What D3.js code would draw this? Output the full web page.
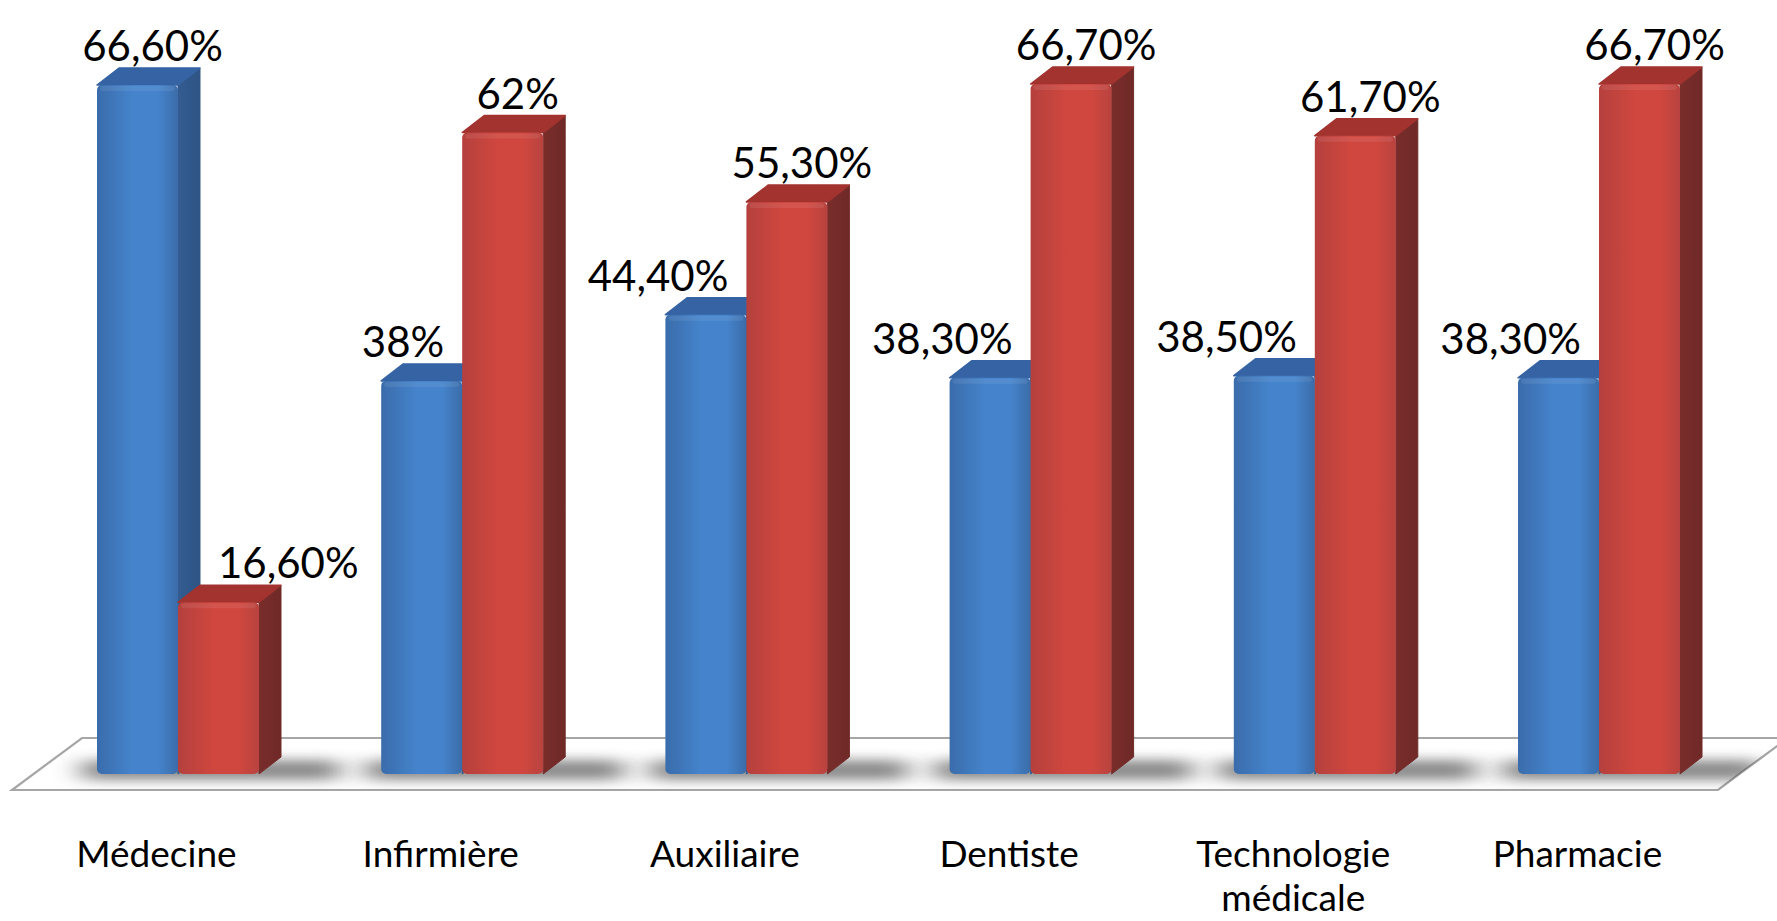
<!DOCTYPE html>
<html>
<head>
<meta charset="utf-8">
<script src="https://cdn.jsdelivr.net/npm/d3@7"></script>
<style>
  html, body { margin: 0; padding: 0; background: #ffffff; }
  svg { display: block; }
  text { font-family: Lato, "Open Sans", sans-serif; fill: #000; }
</style>
</head>
<body>
<svg id="chart" width="1777" height="921"></svg>
<script>
// ---- data ----
const categories = ["Médecine", "Infirmière", "Auxiliaire", "Dentiste", "Technologie médicale", "Pharmacie"];
const seriesNames = ["Série 1", "Série 2"];
const blueValues = [66.6, 38, 44.4, 38.3, 38.5, 38.3];
const redValues  = [16.6, 62, 55.3, 66.7, 61.7, 66.7];

// ---- layout ----
const W = 1777, H = 921;
const baseY = 774;          // bar front bottom
const depthX = 22, depthY = 17;
const floor = { frontY: 790, backY: 738, left: 12, right: 1718 };
const floorSlope = 70 / 52;

const svg = d3.select("#chart");
const defs = svg.append("defs");

const x0 = d3.scaleBand().domain(categories).range([97, 1680]).paddingInner(0.43).paddingOuter(0);
const x1 = d3.scaleBand().domain(seriesNames).range([0, x0.bandwidth()]);
const y = d3.scaleLinear().domain([0, 70]).range([baseY, baseY - 70 * 10.345]);

const palette = {
  "Série 1": { l: "#3a6cab", m: "#4584cc", r: "#3b6ca9", side: "#2f5485", top: "#3563a3" },
  "Série 2": { l: "#b5403d", m: "#d0473f", r: "#b8433f", side: "#6f2927", top: "#a2332f" }
};
seriesNames.forEach((s, i) => {
  const g = defs.append("linearGradient").attr("id", "front" + i).attr("x1", 0).attr("x2", 1).attr("y1", 0).attr("y2", 0);
  g.append("stop").attr("offset", "0%").attr("stop-color", palette[s].l);
  g.append("stop").attr("offset", "45%").attr("stop-color", palette[s].m);
  g.append("stop").attr("offset", "75%").attr("stop-color", palette[s].m);
  g.append("stop").attr("offset", "100%").attr("stop-color", palette[s].r);
  const sg = defs.append("linearGradient").attr("id", "side" + i).attr("x1", 0).attr("x2", 1).attr("y1", 0).attr("y2", 0);
  sg.append("stop").attr("offset", "0%").attr("stop-color", d3.color(palette[s].side).brighter(0.25));
  sg.append("stop").attr("offset", "100%").attr("stop-color", palette[s].side);
});
const blur = defs.append("filter").attr("id", "blur").attr("x", "-50%").attr("y", "-200%").attr("width", "200%").attr("height", "500%");
blur.append("feGaussianBlur").attr("stdDeviation", "14 6");

// ---- floor ----
const floorPts = [
  [floor.left, floor.frontY],
  [floor.right, floor.frontY],
  [floor.right + (floor.frontY - floor.backY) * floorSlope, floor.backY],
  [floor.left + (floor.frontY - floor.backY) * floorSlope, floor.backY]
];
defs.append("clipPath").attr("id", "floorClip").append("polygon").attr("points", floorPts.join(" "));
svg.append("polygon").attr("points", floorPts.join(" "))
  .attr("fill", "#ffffff").attr("stroke", "#a6a6a6").attr("stroke-width", 2.2);

// shadows
const shadowG = svg.append("g").attr("clip-path", "url(#floorClip)");
categories.forEach(c => {
  shadowG.append("rect")
    .attr("x", x0(c) - 15).attr("y", baseY - 14)
    .attr("width", x0.bandwidth() + 95).attr("height", 20)
    .attr("fill", "#3c3c3c").attr("opacity", 0.6).attr("filter", "url(#blur)");
});

// ---- bars ----
const rows = categories.map((c, i) => ({ cat: c, vals: [blueValues[i], redValues[i]] }));
const barsG = svg.append("g");
rows.forEach(row => {
  row.vals.forEach((v, si) => {
    const s = seriesNames[si];
    const xl = x0(row.cat) + x1(s);
    const w = x1.bandwidth();
    const yt = y(v);
    const g = barsG.append("g");
    // side
    g.append("path")
      .attr("d", `M${xl + w},${yt} L${xl + w + depthX},${yt - depthY} L${xl + w + depthX},${baseY - depthY} L${xl + w},${baseY} Z`)
      .attr("fill", `url(#side${si})`).attr("stroke", `url(#side${si})`).attr("stroke-width", 1).attr("stroke-linejoin", "round");
    // top
    g.append("path")
      .attr("d", `M${xl},${yt} L${xl + depthX},${yt - depthY} L${xl + w + depthX},${yt - depthY} L${xl + w},${yt} Z`)
      .attr("fill", palette[s].top).attr("stroke", palette[s].top).attr("stroke-width", 1.5).attr("stroke-linejoin", "round");
    // front
    g.append("rect")
      .attr("x", xl).attr("y", yt).attr("width", w).attr("height", baseY - yt)
      .attr("rx", 5).attr("fill", `url(#front${si})`);
    // bevel highlight at top edge
    g.append("rect")
      .attr("x", xl + 3).attr("y", yt + 1).attr("width", w - 6).attr("height", 5)
      .attr("rx", 3).attr("fill", "#ffffff").attr("opacity", 0.08);
  });
});

// ---- value labels ----
const fmt = v => (Number.isInteger(v) ? String(v) : v.toFixed(2).replace(".", ",")) + "%";
const labelsG = svg.append("g").style("font-size", "42px");
rows.forEach(row => {
  row.vals.forEach((v, si) => {
    const s = seriesNames[si];
    const other = row.vals[1 - si];
    const xl = x0(row.cat) + x1(s);
    const w = x1.bandwidth();
    let xp, anchor;
    if (si === 0 && other > v) { xp = xl + w - 18; anchor = "end"; }
    else if (si === 1 && other > v) { xp = xl + 40; anchor = "start"; }
    else { xp = xl + w / 2 + 15; anchor = "middle"; }
    labelsG.append("text")
      .attr("x", xp).attr("y", y(v) - depthY - 7)
      .attr("text-anchor", anchor)
      .text(fmt(v));
  });
});

// ---- category labels ----
const catG = svg.append("g").style("font-size", "37px");
categories.forEach(c => {
  const cx = x0(c) + x0.bandwidth() / 2 - (floor.frontY - baseY) * floorSlope;
  const words = c.split(" ");
  const t = catG.append("text").attr("text-anchor", "middle").attr("x", cx).attr("y", 867);
  words.forEach((wd, i) => {
    t.append("tspan").attr("x", cx).attr("dy", i === 0 ? 0 : 44).text(wd);
  });
});
</script>
</body>
</html>
